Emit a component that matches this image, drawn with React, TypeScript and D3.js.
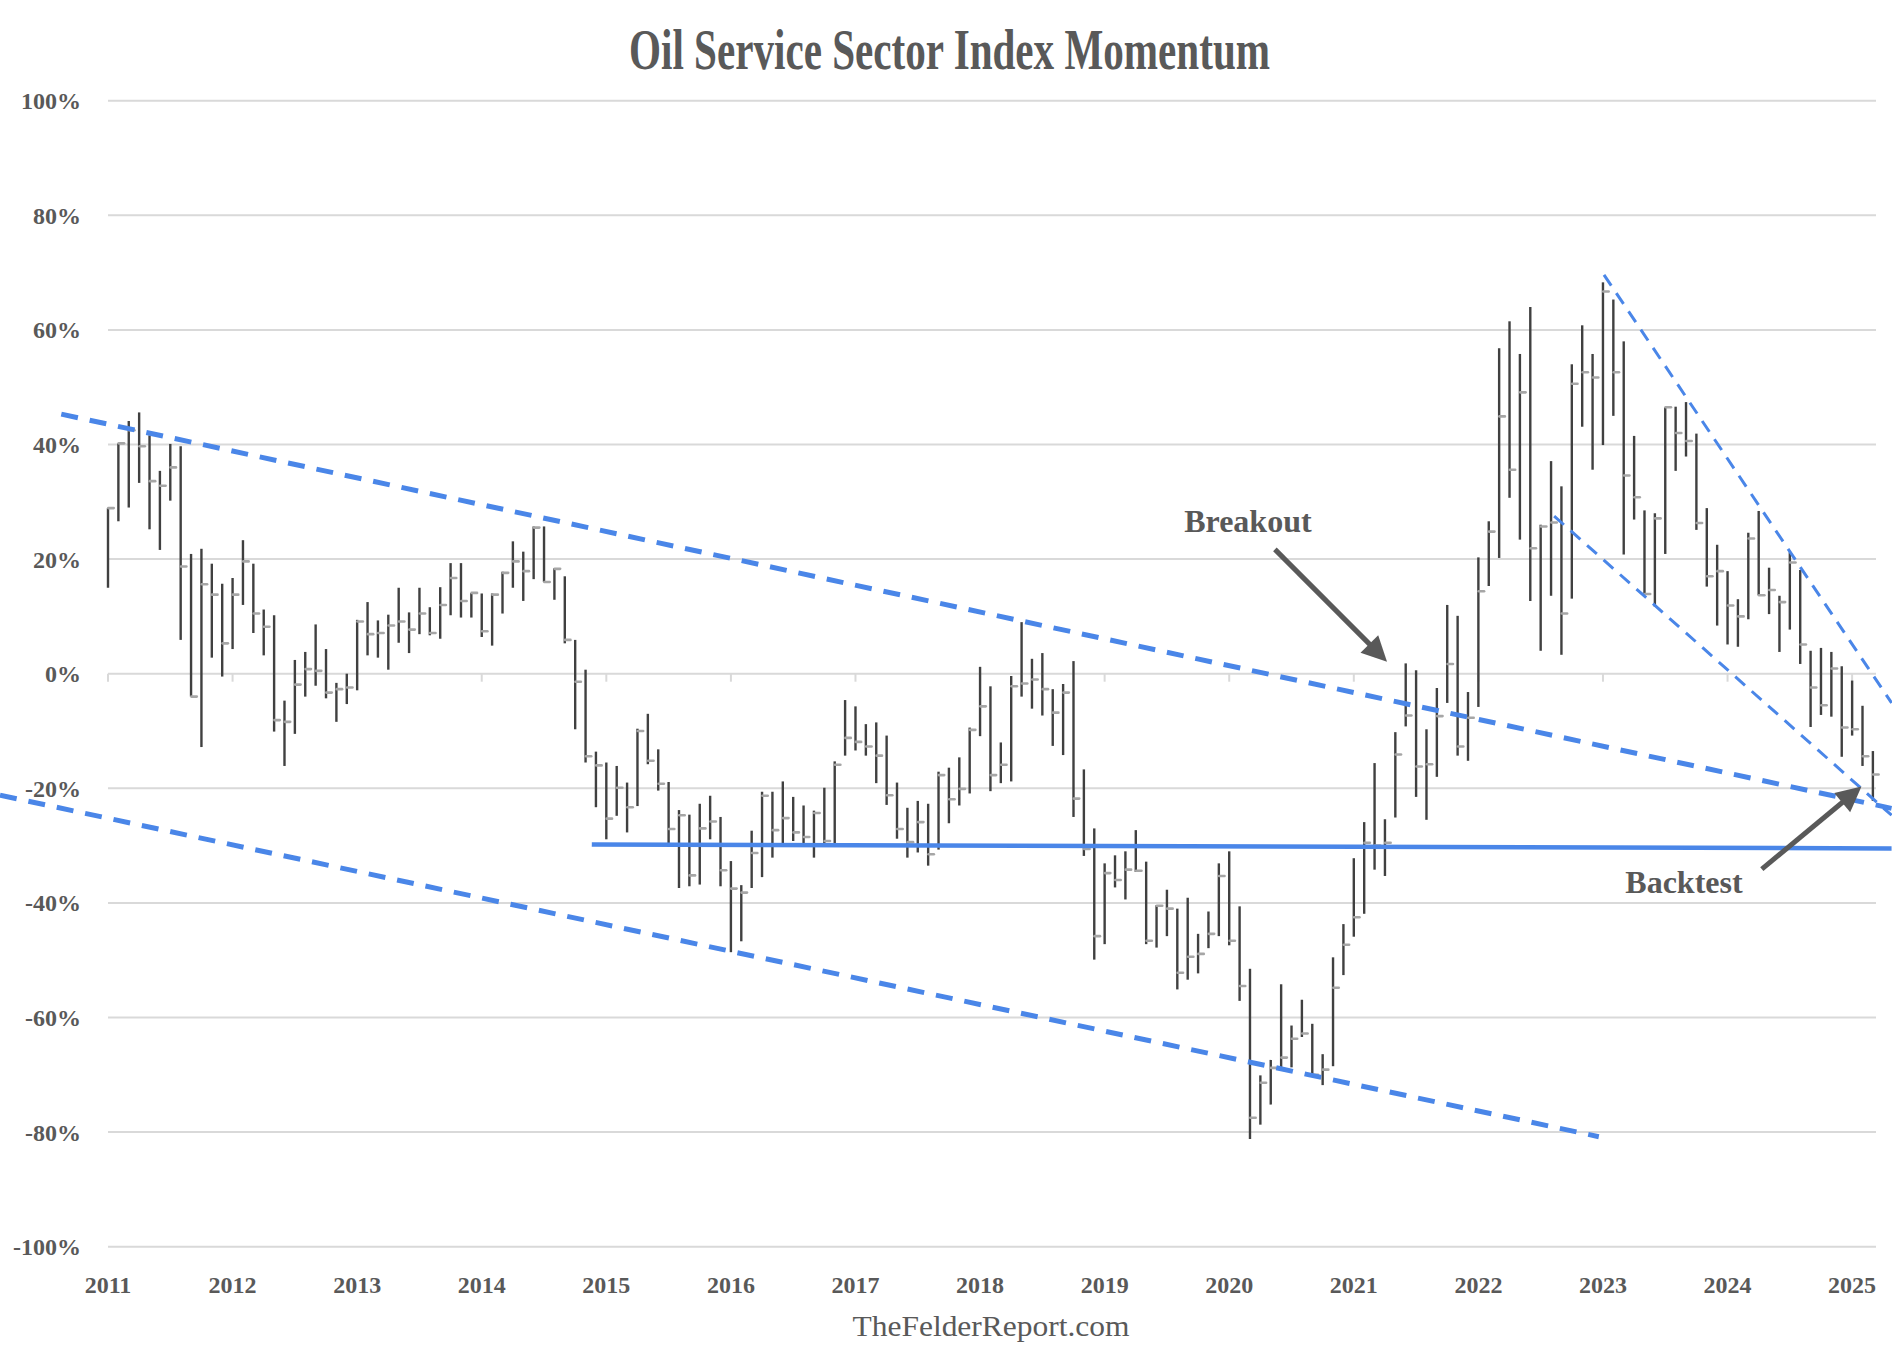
import * as d3 from "d3";

// monthly bars, Jan 2011 .. Mar 2025 (index 0 = Jan 2011)
const highs = [
  28.9, 40.2, 44.1, 45.6, 41.6, 35.4, 40.1, 39.7, 20.9, 21.8, 19.2, 15.7,
  16.7, 23.3, 19.2, 11.2, 10.2, -4.7, 2.4, 3.8, 8.6, 4.3, -1.6, 0.0,
  9.4, 12.5, 9.3, 10.3, 15.0, 10.7, 15.0, 11.6, 15.1, 19.3, 19.3, 14.1,
  14.0, 14.0, 17.8, 23.1, 21.3, 25.7, 25.7, 18.4, 17.0, 5.9, 0.7, -13.6,
  -15.5, -16.1, -19.0, -9.6, -7.0, -13.2, -18.9, -23.8, -24.6, -22.7, -21.3, -25.0,
  -32.7, -36.9, -27.4, -20.6, -20.6, -18.8, -21.5, -23.0, -23.9, -19.9, -15.3, -4.6,
  -5.7, -8.8, -8.5, -10.8, -19.0, -23.4, -22.2, -22.7, -17.1, -16.4, -14.6, -9.4,
  1.2, -2.2, -12.0, -0.4, 9.0, 2.6, 3.6, -2.7, -1.8, 2.2, -16.7, -27.0,
  -33.1, -31.7, -31.0, -27.3, -32.8, -40.4, -37.7, -41.0, -39.1, -45.4, -41.5, -33.1,
  -31.0, -40.6, -51.5, -70.1, -67.4, -54.2, -61.4, -56.9, -61.1, -66.4, -49.5, -43.7,
  -32.2, -25.9, -15.6, -25.4, -10.2, 1.8, 0.6, -9.7, -2.5, 12.0, 10.1, -3.2,
  20.3, 26.6, 56.8, 61.5, 55.8, 64.0, 26.0, 37.1, 32.7, 54.0, 60.8, 55.8,
  68.3, 65.3, 58.0, 41.5, 28.5, 28.0, 46.5, 46.6, 47.4, 41.9, 28.9, 22.5,
  17.9, 13.0, 24.6, 28.4, 18.5, 13.6, 21.2, 18.1, 4.0, 4.5, 3.8, 1.3,
  -1.2, -5.6, -13.5,
];

const lows = [
  15.0, 26.6, 29.0, 33.3, 25.2, 21.6, 30.2, 5.9, -4.0, -12.8, 2.8, -0.5,
  4.3, 12.0, 7.1, 3.2, -10.1, -16.1, -10.5, -4.0, -2.1, -4.3, -8.4, -5.3,
  -2.9, 3.2, 2.8, 0.7, 5.4, 3.6, 6.9, 6.7, 6.1, 10.2, 9.8, 9.8,
  6.4, 4.9, 10.5, 15.0, 12.7, 16.5, 16.0, 12.9, 5.3, -9.7, -15.5, -23.3,
  -28.9, -24.8, -27.7, -23.1, -15.8, -20.4, -29.6, -37.4, -37.1, -36.8, -28.9, -37.1,
  -48.6, -46.7, -37.4, -35.5, -32.1, -29.6, -29.2, -29.6, -32.1, -29.6, -29.6, -14.3,
  -13.4, -14.3, -19.1, -22.9, -28.8, -32.1, -31.2, -33.5, -30.7, -26.1, -23.0, -20.9,
  -10.9, -20.5, -19.1, -18.8, -4.0, -6.1, -7.3, -12.6, -14.2, -25.0, -31.8, -49.9,
  -47.2, -37.3, -39.4, -34.6, -47.2, -47.8, -45.8, -55.1, -53.4, -52.3, -47.9, -45.8,
  -47.4, -57.1, -81.2, -78.7, -75.2, -69.0, -68.7, -63.4, -70.0, -71.8, -68.5, -52.6,
  -45.9, -41.9, -34.2, -35.3, -25.1, -9.2, -21.5, -25.5, -18.0, -5.1, -14.3, -15.2,
  -5.8, 15.3, 20.2, 30.7, 23.4, 12.7, 4.0, 13.6, 3.3, 13.1, 43.1, 35.6,
  39.9, 45.0, 20.8, 26.9, 13.9, 11.7, 20.9, 35.4, 37.9, 25.1, 15.2, 8.4,
  5.1, 4.7, 9.5, 13.7, 10.4, 3.8, 7.7, 1.7, -9.3, -7.2, -7.5, -14.5,
  -10.8, -16.1, -22.2,
];

const closes = [
  28.9, 40.2, 42.5, 39.7, 33.6, 32.8, 36.0, 18.7, -4.0, 15.6, 13.8, 5.3,
  13.8, 19.6, 10.5, 8.2, -8.1, -8.4, -1.9, 0.8, 0.5, -3.3, -2.7, -2.4,
  9.1, 6.9, 7.1, 8.4, 9.1, 7.7, 10.5, 7.1, 12.0, 16.7, 12.7, 14.1,
  7.4, 13.8, 17.6, 19.6, 17.9, 25.5, 16.0, 18.3, 5.9, -1.4, -14.4, -16.0,
  -25.3, -19.9, -23.3, -10.0, -15.2, -19.2, -27.1, -24.7, -35.2, -27.0, -25.8, -34.3,
  -37.5, -38.2, -31.3, -21.3, -27.3, -25.2, -27.7, -28.5, -24.3, -29.2, -15.9, -11.2,
  -11.9, -12.7, -14.3, -21.2, -27.1, -29.4, -25.9, -31.5, -17.7, -21.9, -20.1, -9.8,
  -5.7, -17.7, -15.9, -2.2, -1.7, -1.0, -2.7, -6.8, -3.3, -21.8, -30.6, -45.8,
  -34.8, -36.0, -34.2, -34.4, -46.6, -40.5, -41.0, -52.2, -49.4, -48.9, -45.4, -35.3,
  -46.6, -54.5, -77.5, -71.4, -68.8, -67.0, -63.7, -62.8, -70.0, -69.1, -54.8, -47.3,
  -42.5, -29.5, -30.0, -29.5, -14.1, -7.3, -16.2, -15.8, -7.4, 1.7, -12.7, -7.7,
  14.4, 24.8, 44.9, 35.6, 49.1, 21.9, 25.7, 26.4, 10.5, 50.6, 52.6, 51.7,
  66.7, 52.6, 34.6, 30.8, 13.9, 27.1, 46.5, 42.0, 40.6, 26.3, 17.0, 17.9,
  11.9, 10.0, 23.6, 13.7, 14.6, 12.5, 19.4, 5.1, -2.4, -5.5, 0.9, -9.4,
  -9.7, -14.4, -17.6,
];

const years = ["2011", "2012", "2013", "2014", "2015", "2016", "2017", "2018",
  "2019", "2020", "2021", "2022", "2023", "2024", "2025"];
const yTicks = [100, 80, 60, 40, 20, 0, -20, -40, -60, -80, -100];

// trend lines as [monthIndex, value] pairs
const upperChannel: [number, number][] = [[-4.5, 45.3], [171.8, -23.5]];
const lowerChannel: [number, number][] = [[-10.4, -21.2], [143.6, -80.8]];
const supportLine: [number, number][] = [[46.6, -29.8], [171.8, -30.5]];
const steepDown: [number, number][] = [[144.1, 69.6], [171.8, -5.1]];
const innerDown: [number, number][] = [[139.3, 27.5], [171.8, -24.7]];

const breakoutArrow: [number, number][] = [[112.4, 21.7], [123.2, 2.1]];
const breakoutLabel: [number, number] = [109.8, 24.7];
const backtestArrow: [number, number][] = [[159.3, -34.1], [168.9, -19.7]];
const backtestLabel: [number, number] = [151.8, -38.3];

const W = 1892;
const H = 1368;
const grey = "#595959";
const blue = "#4a86e8";
const font = "'Liberation Serif', 'Times New Roman', serif";

const x = d3.scaleLinear().domain([0, 170.3]).range([108, 1876]);
const y = d3.scaleLinear().domain([-100, 100]).range([1246.7, 100.7]);

const line = d3
  .line<[number, number]>()
  .x((d) => x(d[0]))
  .y((d) => y(d[1]));

function Arrow({ pts }: { pts: [number, number][] }) {
  const [x1, y1] = [x(pts[0][0]), y(pts[0][1])];
  const [x2, y2] = [x(pts[1][0]), y(pts[1][1])];
  const len = Math.hypot(x2 - x1, y2 - y1);
  const ux = (x2 - x1) / len;
  const uy = (y2 - y1) / len;
  const head = 25;
  const hw = 12.5;
  const bx = x2 - ux * head;
  const by = y2 - uy * head;
  const poly = [
    [x2, y2],
    [bx - uy * hw, by + ux * hw],
    [bx + uy * hw, by - ux * hw],
  ]
    .map((p) => p.join(","))
    .join(" ");
  return (
    <g>
      <line x1={x1} y1={y1} x2={bx + ux * 2} y2={by + uy * 2} stroke={grey} strokeWidth={5} />
      <polygon points={poly} fill={grey} />
    </g>
  );
}

export default function App() {
  const months = d3.range(highs.length);
  return (
    <div style={{ position: "absolute", left: 0, top: 0 }}>
      <svg width={W} height={H} style={{ display: "block", background: "#fff" }}>
        <text
          x={949.5}
          y={69}
          textAnchor="middle"
          fontFamily={font}
          fontSize={56}
          fontWeight={700}
          fill={grey}
          textLength={641}
          lengthAdjust="spacingAndGlyphs"
        >
          Oil Service Sector Index Momentum
        </text>

        {/* gridlines + y labels */}
        {yTicks.map((t) => (
          <g key={t}>
            <line x1={x(0)} x2={x(170.3)} y1={y(t)} y2={y(t)} stroke="#d9d9d9" strokeWidth={2} />
            <text
              x={81}
              y={y(t)}
              dy="0.35em"
              textAnchor="end"
              fontFamily={font}
              fontSize={24}
              fontWeight={700}
              fill={grey}
            >
              {`${t}%`}
            </text>
          </g>
        ))}

        {/* year ticks on the zero line, labels at bottom */}
        {years.map((yr, k) => (
          <g key={yr}>
            <line x1={x(k * 12)} x2={x(k * 12)} y1={y(0)} y2={y(0) + 8} stroke="#d9d9d9" strokeWidth={2} />
            <text
              x={x(k * 12)}
              y={1293}
              textAnchor="middle"
              fontFamily={font}
              fontSize={24}
              fontWeight={700}
              fill={grey}
            >
              {yr}
            </text>
          </g>
        ))}

        {/* high-low-close bars */}
        {months.map((i) => (
          <g key={i}>
            <line x1={x(i)} x2={x(i)} y1={y(highs[i])} y2={y(lows[i])} stroke="#404040" strokeWidth={2.4} />
            <rect x={x(i) - 1} y={y(closes[i]) - 1.3} width={8} height={2.6} rx={1.3} fill="#a6a6a6" />
          </g>
        ))}

        {/* trend lines */}
        <path d={line(upperChannel) ?? ""} fill="none" stroke={blue} strokeWidth={5} strokeDasharray="17 12" />
        <path d={line(lowerChannel) ?? ""} fill="none" stroke={blue} strokeWidth={5} strokeDasharray="17 12" />
        <path d={line(supportLine) ?? ""} fill="none" stroke={blue} strokeWidth={4.5} />
        <path d={line(steepDown) ?? ""} fill="none" stroke={blue} strokeWidth={3} strokeDasharray="13 9" />
        <path d={line(innerDown) ?? ""} fill="none" stroke={blue} strokeWidth={3} strokeDasharray="13 9" />

        {/* annotations */}
        <Arrow pts={breakoutArrow} />
        <text
          x={x(breakoutLabel[0])}
          y={y(breakoutLabel[1])}
          textAnchor="middle"
          fontFamily={font}
          fontSize={32}
          fontWeight={700}
          fill={grey}
        >
          Breakout
        </text>
        <Arrow pts={backtestArrow} />
        <text
          x={x(backtestLabel[0])}
          y={y(backtestLabel[1])}
          textAnchor="middle"
          fontFamily={font}
          fontSize={32}
          fontWeight={700}
          fill={grey}
        >
          Backtest
        </text>

        <text
          x={991}
          y={1336}
          textAnchor="middle"
          fontFamily={font}
          fontSize={30}
          fill={grey}
          textLength={277}
          lengthAdjust="spacingAndGlyphs"
        >
          TheFelderReport.com
        </text>
      </svg>
    </div>
  );
}
